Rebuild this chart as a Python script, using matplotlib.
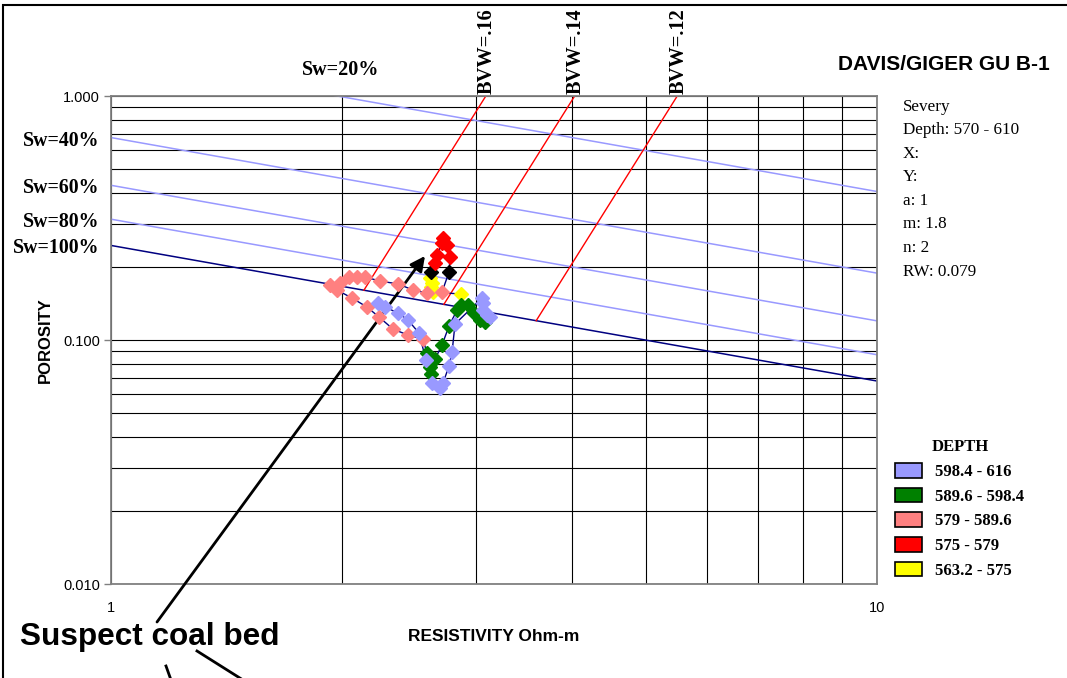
import numpy as np
import matplotlib
matplotlib.use('Agg')
import matplotlib.pyplot as plt
from matplotlib.patches import Patch, Rectangle
from matplotlib.lines import Line2D
from matplotlib.ticker import LogLocator, NullFormatter

plt.rcParams['font.family'] = ['Liberation Sans', 'DejaVu Sans']
serif = 'Liberation Serif'

# Parametros de Archie do poco
a = 1
m = 1.8
n = 2
rw = 0.079

sw_values = [0.2, 0.4, 0.6, 0.8, 1.0]
sw_labels = ['Sw=20%', 'Sw=40%', 'Sw=60%', 'Sw=80%', 'Sw=100%']
bvw_values = [0.16, 0.14, 0.12]
bvw_labels = ['BVW=.16', 'BVW=.14', 'BVW=.12']

info_lines = ['Severy', 'Depth: 570 - 610', 'X:', 'Y:', 'a: 1', 'm: 1.8', 'n: 2', 'RW: 0.079']

# Leituras do perfil (resistividade Ohm-m, porosidade) por intervalo de profundidade
yellow_r = [2.864, 2.633, 2.617, 2.625, 2.609]
yellow_phi = [0.1543, 0.1573, 0.1649, 0.1713, 0.1795]

black_r = [2.617, 2.763]
black_phi = [0.1900, 0.1900]

red_r = [2.649, 2.665, 2.705, 2.713, 2.746, 2.771]
red_phi = [0.2068, 0.2230, 0.2497, 0.2618, 0.2450, 0.2188]

pink_r = [2.705, 2.585, 2.479, 2.370, 2.245, 2.146, 2.095, 2.045, 1.991, 1.931,
          1.972, 2.064, 2.159, 2.238, 2.334, 2.442, 2.554]
pink_phi = [0.1573, 0.1558, 0.1603, 0.1697, 0.1745, 0.1812, 0.1812, 0.1812, 0.1713, 0.1681,
            0.1603, 0.1486, 0.1365, 0.1243, 0.1109, 0.1048, 0.1010]

green_r = [2.585, 2.609, 2.617, 2.649, 2.705, 2.763, 2.830, 2.864, 2.925, 2.978, 3.032, 3.078]
green_phi = [0.0885, 0.0775, 0.0725, 0.0836, 0.0954, 0.1142, 0.1327, 0.1391, 0.1391, 0.1290,
             0.1208, 0.1185]

blue_r = [3.125, 3.096, 3.059, 3.059, 3.050, 2.813, 2.788, 2.763, 2.713, 2.689, 2.625,
          2.578, 2.524, 2.442, 2.370, 2.279, 2.231]
blue_phi = [0.1243, 0.1266, 0.1327, 0.1418, 0.1486, 0.1163, 0.0893, 0.0782, 0.0667, 0.0636,
            0.0667, 0.0828, 0.1068, 0.1208, 0.1290, 0.1365, 0.1418]

legend_labels = ['598.4 - 616', '589.6 - 598.4', '579 - 589.6', '575 - 579', '563.2 - 575']
legend_colors = ['#9999FF', '#008000', '#FF8080', '#FF0000', '#FFFF00']

# Ponto apontado como camada de carvao
coal_r = 2.570
coal_phi = 0.221

fig = plt.figure(figsize=(10.67, 6.78), dpi=100)
ax = fig.add_axes([0.1040, 0.1386, 0.7179, 0.7198])
ax.set_xscale('log')
ax.set_yscale('log')
ax.set_xlim(1, 10)
ax.set_ylim(0.01, 1)

# Linhas de saturacao (Archie)
r_line = np.logspace(0, 1, 300)
for sw, lab in zip(sw_values, sw_labels):
    phi_line = (a * rw / (r_line * sw ** n)) ** (1 / m)
    cor = '#000080' if sw == 1.0 else '#9999FF'
    ax.plot(r_line, phi_line, color=cor, lw=1.1, zorder=2)
    if sw == 0.2:
        r_top = a * rw / sw ** n
        ax.annotate(lab, xy=(r_top, 1.0), xytext=(3, 26), textcoords='offset pixels',
                    ha='center', va='center', family=serif, weight='bold', fontsize=14.5,
                    annotation_clip=False)
    else:
        phi_left = (a * rw / sw ** n) ** (1 / m)
        ax.annotate(lab, xy=(1.0, phi_left), xytext=(-12, -3), textcoords='offset pixels',
                    ha='right', va='center', family=serif, weight='bold', fontsize=14.3,
                    annotation_clip=False)

# Linhas de BVW constante
for bvw, lab in zip(bvw_values, bvw_labels):
    phi_b = np.logspace(np.log10(bvw), 0, 100)
    r_b = a * rw * phi_b ** (n - m) / bvw ** n
    ax.plot(r_b, phi_b, color='#FF0000', lw=1, zorder=2)
    ax.annotate(lab, xy=(r_b[-1], 1.0), xytext=(1, 2), textcoords='offset pixels',
                ha='center', va='bottom', rotation=90, family=serif, weight='bold',
                fontsize=14.7, annotation_clip=False)

# Trajetoria do perfil em profundidade
path_r = yellow_r + [black_r[0]] + red_r + [black_r[1]] + pink_r + green_r + blue_r
path_phi = yellow_phi + [black_phi[0]] + red_phi + [black_phi[1]] + pink_phi + green_phi + blue_phi
ax.plot(path_r, path_phi, color='#000080', lw=1, zorder=3)

series = [(yellow_r, yellow_phi, '#FFFF00'), (black_r, black_phi, '#000000'),
          (red_r, red_phi, '#FF0000'), (pink_r, pink_phi, '#FF8080'),
          (green_r, green_phi, '#008000'), (blue_r, blue_phi, '#9999FF')]
for rr, pp, cor in series:
    ax.plot(rr, pp, ls='none', marker='D', ms=7.5, color=cor, mec=cor, zorder=4)

# Eixos e grade
ax.set_xticks([1, 10])
ax.set_xticklabels(['1', '10'])
ax.set_yticks([0.01, 0.1, 1])
ax.set_yticklabels(['0.010', '0.100', '1.000'])
ax.xaxis.set_minor_locator(LogLocator(base=10, subs=np.arange(2, 10)))
ax.yaxis.set_minor_locator(LogLocator(base=10, subs=np.arange(2, 10)))
ax.xaxis.set_minor_formatter(NullFormatter())
ax.yaxis.set_minor_formatter(NullFormatter())
ax.grid(True, which='both', color='black', lw=0.8, zorder=1)
ax.set_axisbelow(True)
ax.tick_params(which='minor', length=0)
ax.tick_params(axis='x', which='major', length=0, pad=12, labelsize=10.5)
ax.tick_params(axis='y', which='major', length=5, width=1, color='#808080', pad=3, labelsize=10.5)
for s in ax.spines.values():
    s.set_color('#808080')
    s.set_linewidth(1.3)

ax.set_ylabel('POROSITY', fontsize=12, weight='bold')
ax.set_xlabel('RESISTIVITY Ohm-m', fontsize=12.5, weight='bold')
ax.yaxis.set_label_coords(-0.076, 0.5)
ax.xaxis.set_label_coords(0.5, -0.092)

# Titulo e parametros
fig.text(1050 / 1067, 1 - 65 / 678, 'DAVIS/GIGER GU B-1', ha='right', va='center',
         fontsize=15, weight='bold')
for i, linha in enumerate(info_lines):
    fig.text(903 / 1067, 1 - (107 + i * 23.5) / 678, linha, ha='left', va='center',
             family=serif, fontsize=12.3)

# Legenda de profundidade
handles = [Patch(facecolor=c, edgecolor='black', lw=1.2) for c in legend_colors]
leg = ax.legend(handles, legend_labels, title='DEPTH', loc='upper left',
                bbox_to_anchor=(887 / 1067, 1 - 431 / 678), bbox_transform=fig.transFigure,
                frameon=False, borderpad=0, handlelength=1.6, handleheight=1.0,
                handletextpad=0.8, labelspacing=0.45,
                prop={'family': serif, 'weight': 'bold', 'size': 12},
                title_fontproperties={'family': serif, 'weight': 'bold', 'size': 12})

# Anotacao da camada de carvao
fig.text(20 / 1067, 1 - 637 / 678, 'Suspect coal bed', ha='left', va='center',
         fontsize=22.7, weight='bold')
ax.annotate('', xy=(coal_r, coal_phi), xycoords='data',
            xytext=(157 / 1067, 1 - 622 / 678), textcoords='figure fraction',
            arrowprops=dict(arrowstyle='-|>', color='black', lw=2, mutation_scale=22,
                            shrinkA=0, shrinkB=0), annotation_clip=False)
fig.add_artist(Line2D([166 / 1067, 171 / 1067], [1 - 666 / 678, 1 - 680 / 678],
                      color='black', lw=2, transform=fig.transFigure))
fig.add_artist(Line2D([197 / 1067, 243 / 1067], [1 - 651 / 678, 1 - 680 / 678],
                      color='black', lw=2, transform=fig.transFigure))

# Moldura externa
fig.add_artist(Rectangle((3 / 1067, -0.2), 1.2, 1.2 - 5 / 678, fill=False,
                         edgecolor='black', lw=1.5, transform=fig.transFigure))

fig.savefig('out.png', dpi=100)
